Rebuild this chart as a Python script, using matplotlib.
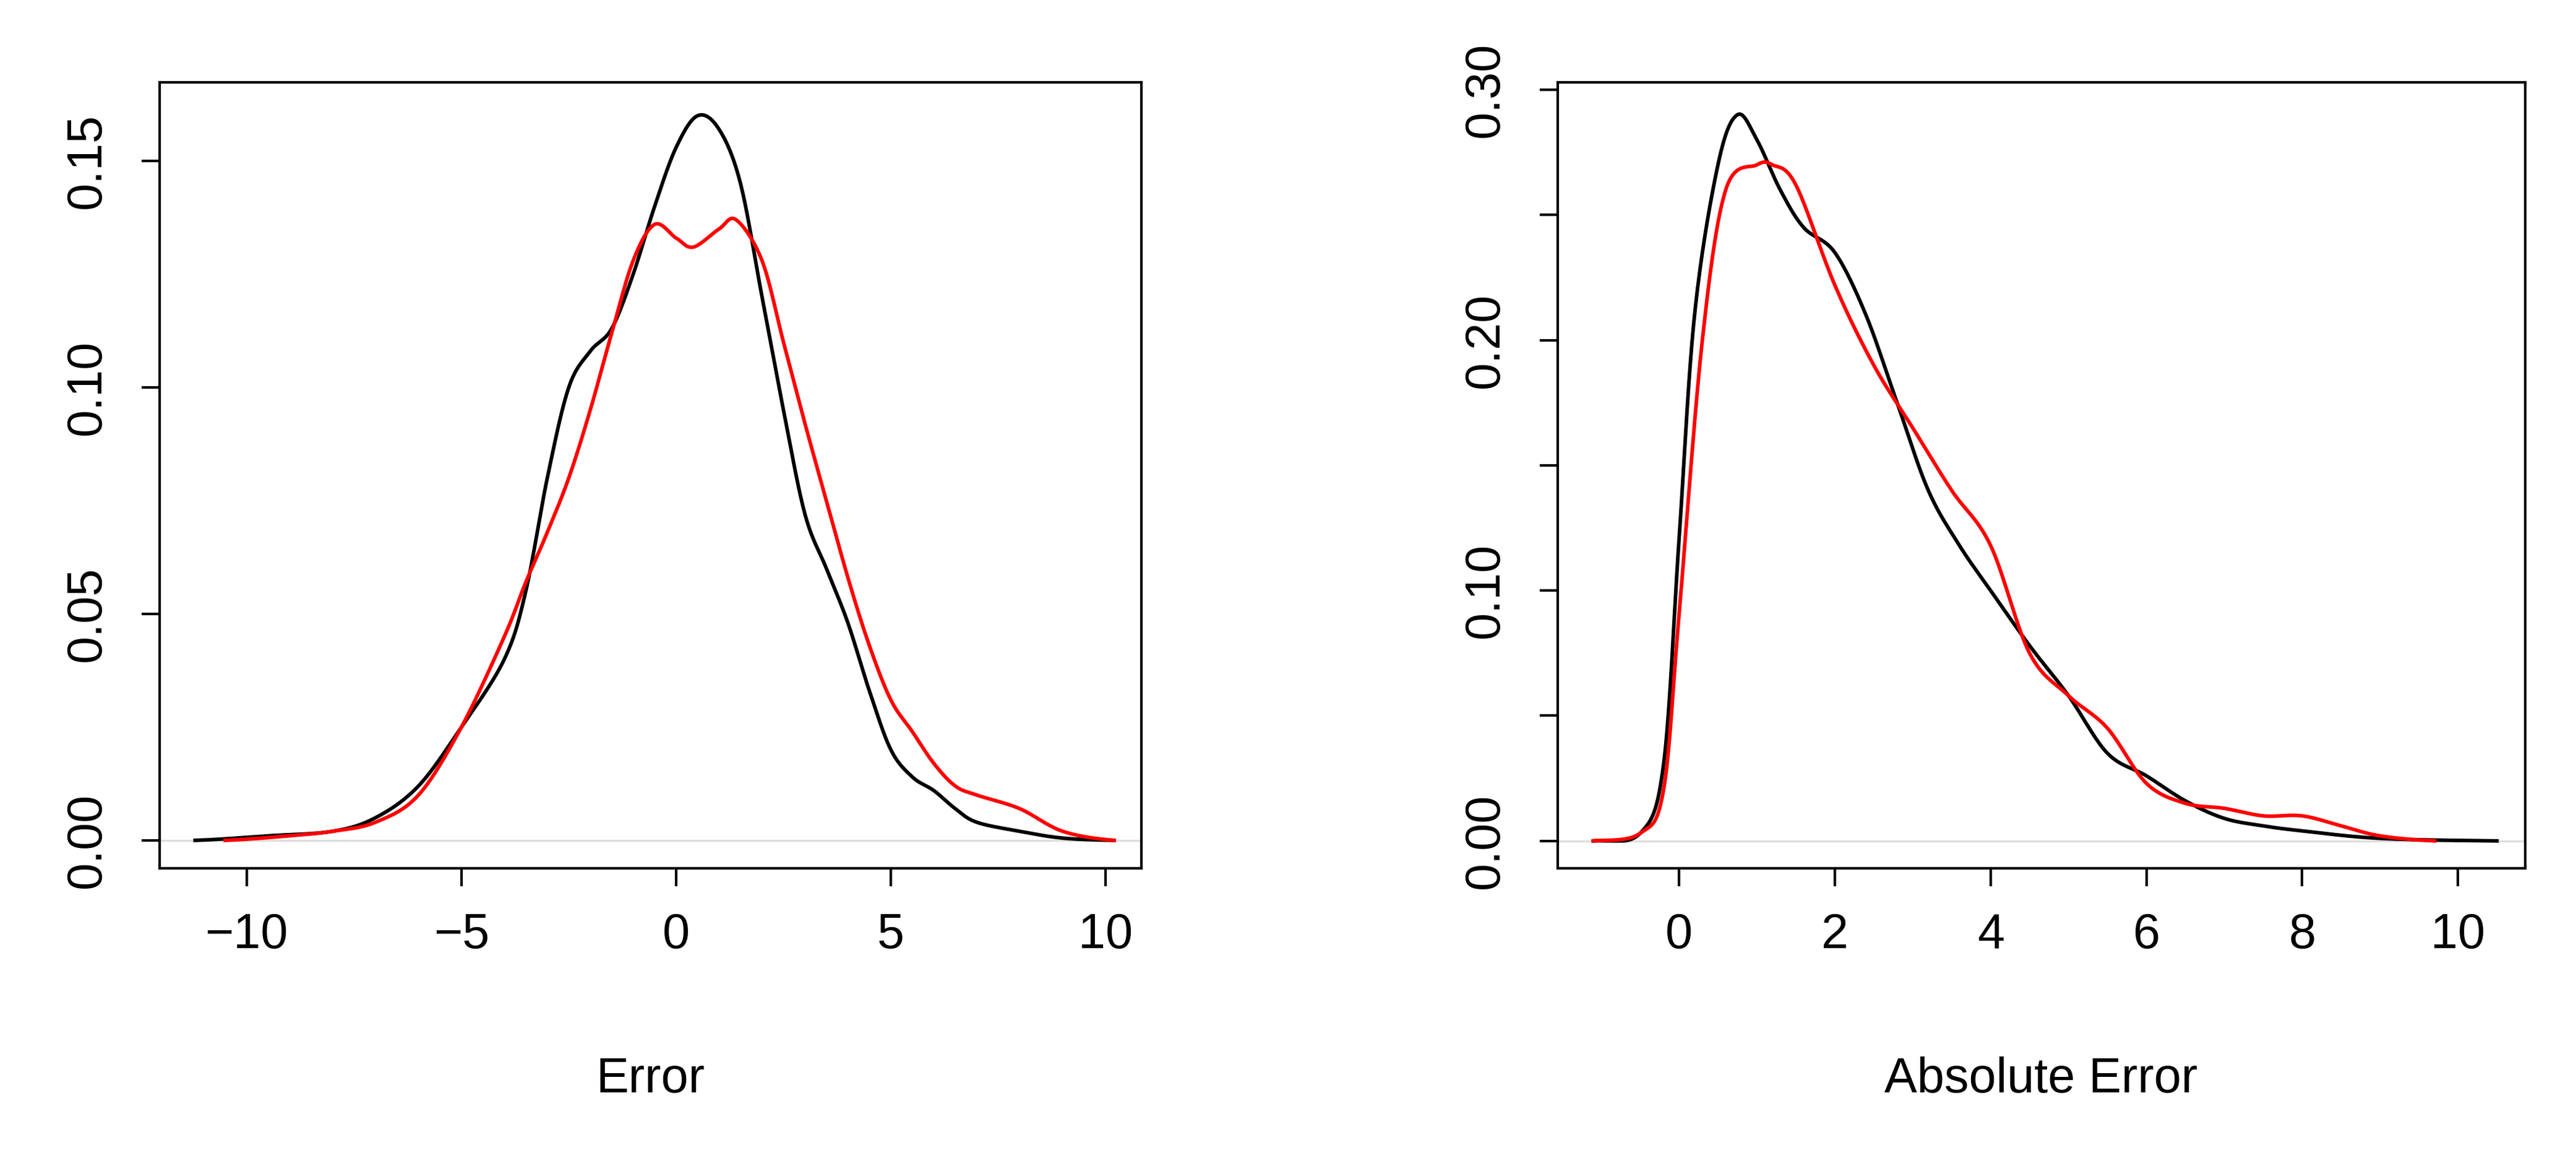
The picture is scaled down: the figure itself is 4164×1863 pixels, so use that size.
import numpy as np
import matplotlib
matplotlib.use("Agg")
import matplotlib.pyplot as plt

plt.rcParams['font.family'] = ['Liberation Sans', 'DejaVu Sans']

# Left panel: Error densities
err_black_x = [-11.2,-9.5,-8,-7,-6,-5,-4,-3.5,-3,-2.5,-2,-1.5,-1,-0.5,0,0.5,1,1.5,2,2.5,3,3.5,4,4.5,5,5.5,6,6.5,7,8,9,10.2]
err_black_y = [0,0.001,0.002,0.005,0.012,0.025,0.04,0.055,0.08,0.1,0.108,0.113,0.125,0.14,0.153,0.16,0.157,0.145,0.12,0.095,0.072,0.06,0.048,0.033,0.02,0.014,0.011,0.007,0.004,0.002,0.0005,0]
err_red_x = [-10.5,-9,-8,-7,-6,-5,-4,-3.5,-3,-2.5,-2,-1.5,-1,-0.5,0,0.4,1,1.4,2,2.5,3,3.5,4,4.5,5,5.5,6,6.5,7,8,9,10.2]
err_red_y = [0,0.001,0.002,0.004,0.01,0.025,0.045,0.057,0.068,0.08,0.095,0.112,0.128,0.136,0.133,0.131,0.135,0.137,0.128,0.11,0.092,0.075,0.058,0.043,0.031,0.024,0.017,0.012,0.01,0.007,0.002,0]

# Right panel: Absolute error densities
abs_black_x = [-1.1,-0.5,-0.2,0,0.2,0.5,0.75,1,1.3,1.6,2,2.4,2.8,3.2,3.6,4,4.5,5,5.5,6,6.5,7,7.5,8,9,10.5]
abs_black_y = [0,0.003,0.03,0.12,0.21,0.27,0.29,0.28,0.26,0.245,0.235,0.21,0.175,0.14,0.118,0.1,0.078,0.058,0.035,0.026,0.016,0.009,0.006,0.004,0.001,0]
abs_red_x = [-1.1,-0.5,-0.2,0,0.3,0.6,1,1.2,1.5,2,2.5,3,3.5,4,4.5,5,5.5,6,6.5,7,7.5,8,8.5,9,9.7]
abs_red_y = [0,0.003,0.02,0.09,0.2,0.26,0.27,0.27,0.262,0.222,0.19,0.165,0.14,0.118,0.075,0.058,0.045,0.023,0.015,0.013,0.01,0.01,0.006,0.002,0]

def smooth(x, y, n=20):
    x = np.asarray(x, float); y = np.asarray(y, float)
    px = np.concatenate([[2*x[0]-x[1]], x, [2*x[-1]-x[-2]]])
    py = np.concatenate([[y[0]], y, [y[-1]]])
    ox, oy = [], []
    for i in range(1, len(px)-2):
        t = np.linspace(0, 1, n, endpoint=False)
        for arr, out in ((px, ox), (py, oy)):
            p0, p1, p2, p3 = arr[i-1], arr[i], arr[i+1], arr[i+2]
            out.extend(0.5*((2*p1) + (-p0+p2)*t + (2*p0-5*p1+4*p2-p3)*t**2 + (-p0+3*p1-3*p2+p3)*t**3))
    ox.append(x[-1]); oy.append(y[-1])
    return np.array(ox), np.maximum(np.array(oy), 0)

fig = plt.figure(figsize=(4164/300, 1863/300), dpi=300)
ax1 = fig.add_axes([0.0619, 0.2468, 0.3813, 0.6819])
ax2 = fig.add_axes([0.6046, 0.2468, 0.3756, 0.6819])

def style(ax, xlim, ylim, xt, yt, ytl, xlabel):
    ax.set_xlim(*xlim); ax.set_ylim(*ylim)
    ax.set_xticks(xt); ax.set_yticks(yt)
    ax.set_xticklabels([str(v).replace('-', '\u2212') for v in xt])
    ax.set_yticklabels(ytl, rotation=90, va='center')
    ax.tick_params(direction='out', length=7, width=1, labelsize=19)
    ax.tick_params(axis='x', pad=10)
    ax.tick_params(axis='y', pad=12)
    for s in ax.spines.values():
        s.set_linewidth(1)
    ax.set_xlabel(xlabel, fontsize=19, labelpad=38)
    ax.axhline(0, color='#dddddd', lw=0.8, zorder=0)

for ax, (bx, by, rx, ry) in ((ax1, (err_black_x, err_black_y, err_red_x, err_red_y)),
                             (ax2, (abs_black_x, abs_black_y, abs_red_x, abs_red_y))):
    ax.plot(*smooth(bx, by), color='black', lw=1.4)
    ax.plot(*smooth(rx, ry), color='red', lw=1.4)

style(ax1, (-12.03, 10.84), (-0.0062, 0.1674), [-10, -5, 0, 5, 10],
      [0, 0.05, 0.10, 0.15], ['0.00', '0.05', '0.10', '0.15'], 'Error')
style(ax2, (-1.56, 10.86), (-0.011, 0.303), [0, 2, 4, 6, 8, 10],
      [0, 0.05, 0.10, 0.15, 0.20, 0.25, 0.30],
      ['0.00', '', '0.10', '', '0.20', '', '0.30'], 'Absolute Error')

fig.savefig('out.png', dpi=300)
